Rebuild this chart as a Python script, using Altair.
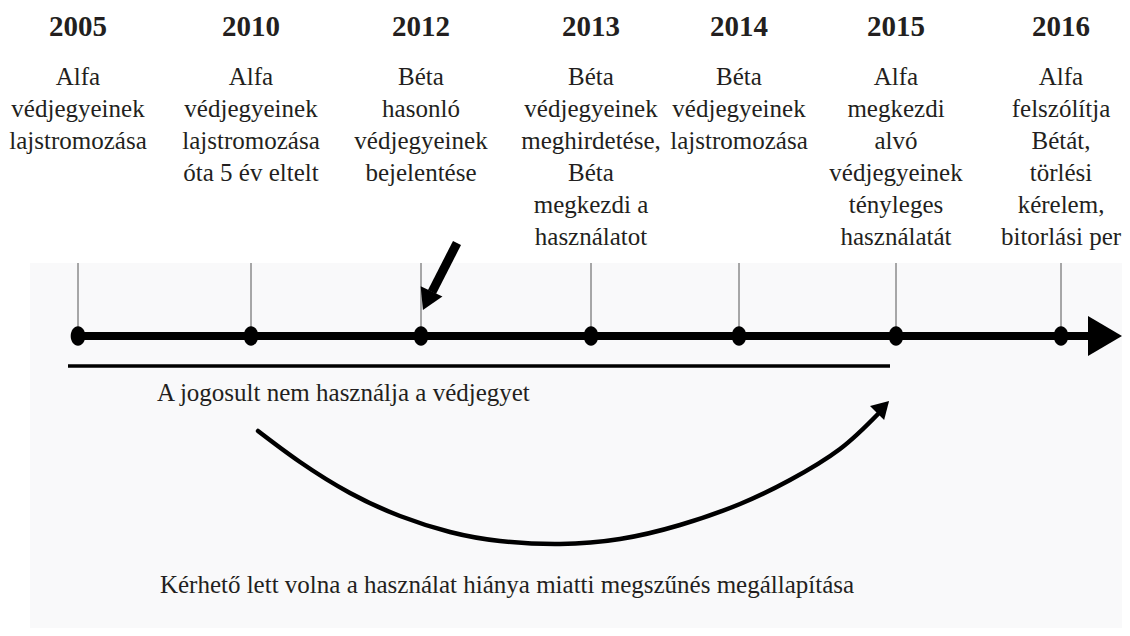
import altair as alt
import pandas as pd

# ---- data ----
years = ["2005", "2010", "2012", "2013", "2014", "2015", "2016"]
event_x = [78, 251, 421, 591, 739, 896, 1061]
descriptions = [
    "Alfa\nvédjegyeinek\nlajstromozása",
    "Alfa\nvédjegyeinek\nlajstromozása\nóta 5 év eltelt",
    "Béta\nhasonló\nvédjegyeinek\nbejelentése",
    "Béta\nvédjegyeinek\nmeghirdetése,\nBéta\nmegkezdi a\nhasználatot",
    "Béta\nvédjegyeinek\nlajstromozása",
    "Alfa\nmegkezdi\nalvó\nvédjegyeinek\ntényleges\nhasználatát",
    "Alfa\nfelszólítja\nBétát,\ntörlési\nkérelem,\nbitorlási per",
]
year_y = 27
desc_top_y = 65
tick_top_y = 263
axis_y = 336
axis_start_x = 78
axis_end_x = 1100

underline_x = [68, 890]
underline_y = 366
nonuse_label = "A jogosult nem használja a védjegyet"
nonuse_label_pos = [157, 393]

curve_x = [258, 300, 350, 400, 450, 500, 560, 620, 680, 740, 790, 840, 878]
curve_y = [431, 462, 493, 516, 532, 541, 544, 539, 525, 504, 480, 449, 414]
bottom_label = "Kérhető lett volna a használat hiánya miatti megszűnés megállapítása"
bottom_label_pos = [507, 585]

pointer_shaft = [[457, 243], [432, 292]]

heads = pd.DataFrame({
    "x": [1102, 428, 882],
    "y": [336, 299, 408],
    "angle": [0, 115, 315],
    "size": [1600, 576, 400],
})

background = {"x": 30, "x2": 1122, "y": 263, "y2": 628}

# ---- scales ----
FONT = "Liberation Serif"
xs = alt.Scale(domain=[8, 1122], nice=False, zero=False)
ys = alt.Scale(domain=[8, 628], nice=False, zero=False, reverse=True)

def X(f="x"):
    return alt.X(f"{f}:Q", scale=xs, axis=None)

def Y(f="y"):
    return alt.Y(f"{f}:Q", scale=ys, axis=None)

bg = alt.Chart(pd.DataFrame([background])).mark_rect(color="#f9f9fa").encode(
    x=X(), x2="x2:Q", y=Y(), y2="y2:Q"
)

events = pd.DataFrame({
    "year": years, "x": event_x, "desc": descriptions,
    "yy": [year_y] * len(years), "dy": [desc_top_y] * len(years),
    "t0": [tick_top_y] * len(years), "t1": [axis_y] * len(years),
})

ticks = alt.Chart(events).mark_rule(color="#555555", strokeWidth=1).encode(
    x=X(), y=Y("t0"), y2="t1:Q"
)

axis_line = alt.Chart(pd.DataFrame({"x": [axis_start_x], "x2": [axis_end_x], "y": [axis_y]})).mark_rule(
    color="black", strokeWidth=8
).encode(x=X(), x2="x2:Q", y=Y())

dots = alt.Chart(events).mark_point(
    shape="M-0.75,0A0.75,1 0 1,0 0.75,0A0.75,1 0 1,0 -0.75,0Z", filled=True, color="black", opacity=1, size=380
).encode(x=X(), y=Y("t1"))

year_text = alt.Chart(events).mark_text(
    font=FONT, fontSize=29, fontWeight="bold", color="#231f20", baseline="middle", align="center"
).encode(x=X(), y=Y("yy"), text="year:N")

desc_text = alt.Chart(events).mark_text(
    font=FONT, fontSize=25, color="#231f20", baseline="top", align="center", lineBreak="\n", lineHeight=32
).encode(x=X(), y=Y("dy"), text="desc:N")

underline = alt.Chart(pd.DataFrame({"x": [underline_x[0]], "x2": [underline_x[1]], "y": [underline_y]})).mark_rule(
    color="black", strokeWidth=3.5
).encode(x=X(), x2="x2:Q", y=Y())

nonuse = alt.Chart(pd.DataFrame({"x": [nonuse_label_pos[0]], "y": [nonuse_label_pos[1]], "t": [nonuse_label]})).mark_text(
    font=FONT, fontSize=25, color="#231f20", align="left", baseline="middle"
).encode(x=X(), y=Y(), text="t:N")

curve = alt.Chart(pd.DataFrame({"x": curve_x, "y": curve_y, "o": list(range(len(curve_x)))})).mark_line(
    color="black", strokeWidth=4.5, interpolate="natural", strokeCap="round"
).encode(x=X(), y=Y(), order="o:Q")

bottom = alt.Chart(pd.DataFrame({"x": [bottom_label_pos[0]], "y": [bottom_label_pos[1]], "t": [bottom_label]})).mark_text(
    font=FONT, fontSize=25, color="#231f20", align="center", baseline="middle"
).encode(x=X(), y=Y(), text="t:N")

pointer = alt.Chart(pd.DataFrame({
    "x": [pointer_shaft[0][0]], "y": [pointer_shaft[0][1]],
    "x2": [pointer_shaft[1][0]], "y2": [pointer_shaft[1][1]],
})).mark_rule(color="black", strokeWidth=9).encode(x=X(), y=Y(), x2="x2:Q", y2="y2:Q")

arrowheads = alt.Chart(heads).mark_point(
    shape="M-0.7,-1L1,0L-0.7,1Z", filled=True, color="black", opacity=1
).encode(
    x=X(), y=Y(), angle=alt.Angle("angle:Q", scale=None),
    size=alt.Size("size:Q", scale=None, legend=None)
)

chart = alt.layer(
    bg, ticks, axis_line, dots, year_text, desc_text, underline, nonuse, curve, bottom, pointer, arrowheads
).properties(
    width=1114, height=620, padding=0,
    autosize=alt.AutoSizeParams(type="fit", contains="padding"),
    background="white",
).configure_view(stroke=None)

chart.save("out.html", embed_options={"renderer": "svg", "actions": False})
